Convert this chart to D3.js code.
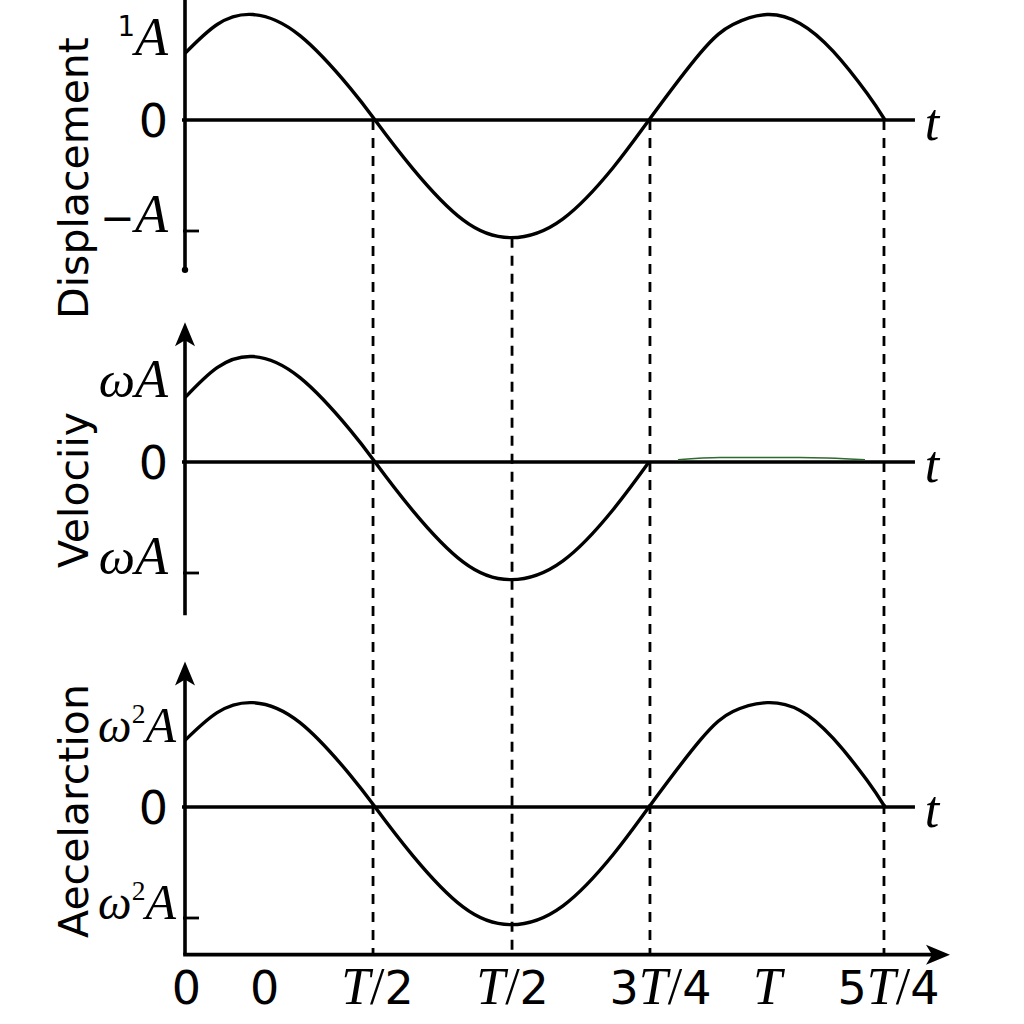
<!DOCTYPE html>
<html><head><meta charset="utf-8">
<script src="https://cdn.jsdelivr.net/npm/d3@7"></script>
<style>html,body{margin:0;padding:0;background:#fff;} svg{display:block;}</style>
</head><body><svg id="c" width="1024" height="1024"></svg>
<script>
// ---- data (t in arbitrary units 0..100, values in units of amplitude) ----
const curveT = [0, 4.2, 8.89, 15.03, 21.57, 24.84, 29.80, 36.34, 42.61, 49.41, 55.95, 60.65, 67.32, 71.63, 76.08, 80.39, 84.71, 89.15, 91.50];
const displacementValues = [0.60, 0.86, 0.95, 0.76, 0.29, 0, -0.44, -0.90, -1.06, -0.89, -0.43, 0, 0.60, 0.86, 0.95, 0.87, 0.62, 0.24, 0];
const velocityValues = [0.58, 0.85, 0.95, 0.76, 0.29, 0, -0.44, -0.90, -1.06, -0.89, -0.43, 0, null, null, null, null, null, null, null];
const accelerationValues = [0.60, 0.85, 0.94, 0.76, 0.29, 0, -0.44, -0.90, -1.06, -0.89, -0.43, 0, 0.60, 0.86, 0.94, 0.87, 0.62, 0.24, 0];
const greenT = [64.44, 69.93, 80.39, 88.89];
const greenValues = [0.02, 0.04, 0.04, 0.02];
const axisTitles = ["Displacement", "Velociiy", "Aecelarction"];
const topTickLabels = ["¹A", "ωA", "ω²A"];
const zeroTickLabels = ["0", "0", "0"];
const bottomTickLabels = ["−A", "ωA", "ω²A"];
const xTickPositions = [0.13, 10.33, 25.1, 42.75, 62.09, 76.08, 91.9];
const xTickLabels = ["0", "0", "T/2", "T/2", "3T/4", "T", "5T/4"];
const guideT = [24.58, 42.75, 60.78, 91.37];
const guideStartValues = [0, -1.06, 0, 0];

// ---- layout ----
const svg = d3.select("#c");
const x = d3.scaleLinear().domain([0, 100]).range([185, 950]);
const panels = [
  {title: axisTitles[0], values: displacementValues, zero: 120, top: 1.1, bottom: -1.35, arrow: false, titleY: 178, labelX: 168, labelSize: 54},
  {title: axisTitles[1], values: velocityValues, zero: 462, top: 1.26, bottom: -1.38, arrow: true, titleY: 490, labelX: 168, labelSize: 54},
  {title: axisTitles[2], values: accelerationValues, zero: 807, top: 1.31, bottom: -1.33, arrow: true, titleY: 811, labelX: 176, labelSize: 50}
];
const unitPx = 111;
panels.forEach(p => { p.y = d3.scaleLinear().domain([-1, 1]).range([p.zero + unitPx, p.zero - unitPx]); });

const serif = "'Liberation Serif','Times New Roman',serif";
const sans = "'DejaVu Sans',sans-serif";

function richText(sel, str, digitSize, letterSize) {
  sel.text(null);
  let prevSup = false;
  for (const ch of str) {
    const t = sel.append("tspan");
    if (prevSup) t.attr("dy", digitSize * 0.42);
    prevSup = false;
    if (ch === "²" || ch === "¹") {
      t.text(ch === "²" ? "2" : "1").attr("font-family", ch === "²" ? serif : sans)
        .attr("font-size", digitSize * 0.6).attr("dy", -digitSize * 0.42);
      prevSup = true;
    } else if (/[0-9]/.test(ch)) {
      t.text(ch).attr("font-family", sans).attr("font-size", digitSize);
    } else if (ch === "/") {
      t.text(ch).attr("font-family", serif).attr("font-size", letterSize);
    } else if (ch === "−") {
      t.text(ch).attr("font-family", sans).attr("font-size", digitSize * 0.9);
    } else if (ch === "ω") {
      t.text(ch).attr("font-family", serif).attr("font-style", "italic").attr("font-size", letterSize * 0.95);
    } else {
      t.text(ch).attr("font-family", serif).attr("font-style", "italic").attr("font-size", letterSize);
    }
  }
}

const line = d3.line()
  .x(d => x(d.t))
  .curve(d3.curveNatural);

// dashed guides
const yBottomAxis = panels[2].y(panels[2].bottom);
guideT.forEach((t, i) => {
  svg.append("line")
    .attr("x1", x(t)).attr("x2", x(t))
    .attr("y1", panels[0].y(guideStartValues[i])).attr("y2", yBottomAxis)
    .attr("stroke", "#000").attr("stroke-width", 2.8).attr("stroke-dasharray", "10,8");
});

panels.forEach((p, pi) => {
  const g = svg.append("g");
  const x0 = x(0);
  // zero line
  g.append("line").attr("x1", x0 - 3).attr("x2", x(95.42)).attr("y1", p.y(0)).attr("y2", p.y(0))
    .attr("stroke", "#000").attr("stroke-width", 3.6);
  // y axis
  const yTop = pi === 0 ? 0 : p.y(p.top) + 14;
  g.append("line").attr("x1", x0).attr("x2", x0).attr("y1", yTop).attr("y2", p.y(p.bottom))
    .attr("stroke", "#000").attr("stroke-width", 3.6);
  if (p.arrow) {
    const yt = p.y(p.top);
    g.append("path").attr("d", `M${x0},${yt} L${x0 - 10},${yt + 24} L${x0},${yt + 18} L${x0 + 10},${yt + 24} Z`).attr("fill", "#000");
  } else {
    g.append("circle").attr("cx", x0).attr("cy", p.y(p.bottom)).attr("r", 3.2).attr("fill", "#000");
  }
  // -1 tick
  g.append("line").attr("x1", x0 - 2).attr("x2", x0 + 14).attr("y1", p.y(-1)).attr("y2", p.y(-1))
    .attr("stroke", "#000").attr("stroke-width", 2.8);
  // curve
  const data = curveT.map((t, i) => ({t, v: p.values[i]})).filter(d => d.v !== null);
  g.append("path").datum(data).attr("d", line.y(d => p.y(d.v)))
    .attr("fill", "none").attr("stroke", "#000").attr("stroke-width", 3.4);
  // t label
  g.append("text").attr("x", x(96.7)).attr("y", p.y(0) + 20)
    .attr("font-family", serif).attr("font-style", "italic").attr("font-size", 52).text("t");
  // tick labels
  richText(g.append("text").attr("x", p.labelX).attr("y", p.y(0.6) + 2).attr("text-anchor", "end"), topTickLabels[pi], 46, p.labelSize);
  richText(g.append("text").attr("x", 168).attr("y", p.y(0) + 17).attr("text-anchor", "end"), zeroTickLabels[pi], 46, 54);
  richText(g.append("text").attr("x", p.labelX).attr("y", p.y(-1) + 1).attr("text-anchor", "end"), bottomTickLabels[pi], 46, p.labelSize);
  // axis title
  g.append("text").attr("transform", `translate(88,${p.titleY}) rotate(-90)`)
    .attr("text-anchor", "middle").attr("font-family", sans).attr("font-size", 41).text(p.title);
});

// stray green stroke in velocity panel
svg.append("path")
  .datum(greenT.map((t, i) => ({t, v: greenValues[i]})))
  .attr("d", d3.line().x(d => x(d.t)).y(d => panels[1].y(d.v)).curve(d3.curveMonotoneX))
  .attr("fill", "none").attr("stroke", "#2f6b2f").attr("stroke-width", 1.6);

// bottom time axis
const xAxisG = svg.append("g").attr("transform", `translate(0,${yBottomAxis})`)
  .call(d3.axisBottom(x).tickValues(xTickPositions).tickFormat((d, i) => xTickLabels[i]).tickSize(0).tickPadding(0));
xAxisG.select(".domain").remove();
xAxisG.selectAll(".tick text").each(function(d, i) {
  const s = d3.select(this).attr("dy", null).attr("y", 49);
  richText(s, xTickLabels[i], 46, 52);
});
svg.append("line").attr("x1", x(0) - 1.8).attr("x2", x(100) - 10).attr("y1", yBottomAxis).attr("y2", yBottomAxis)
  .attr("stroke", "#000").attr("stroke-width", 3.6);
const xe = x(100);
svg.append("path").attr("d", `M${xe},${yBottomAxis} L${xe - 24},${yBottomAxis - 10} L${xe - 18},${yBottomAxis} L${xe - 24},${yBottomAxis + 10} Z`).attr("fill", "#000");
</script></body></html>
